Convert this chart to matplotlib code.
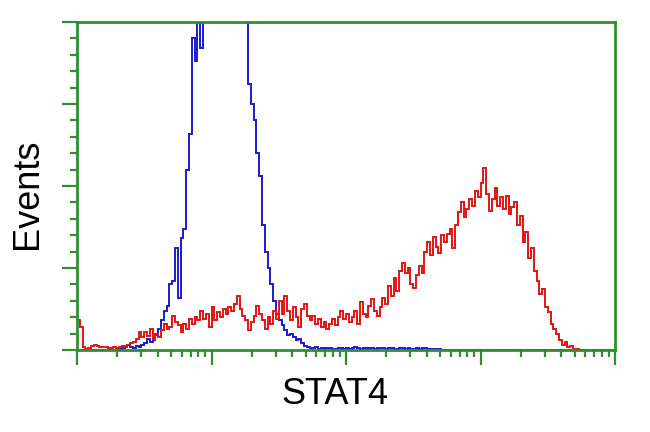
import numpy as np
import matplotlib
matplotlib.use('Agg')
import matplotlib.pyplot as plt
from matplotlib.ticker import LogLocator, MultipleLocator, NullFormatter

# histogram channels: 192 log-spaced bins over four decades
n_bins = 192
edges = np.logspace(0, 4, n_bins + 1)

# isotype control (blue), counts per channel
control = [0] * 12 + [
    0, 0, 0.2, 0.4, 0.6, 1.0, 1.5, 1.0, 0.7, 1.2, 1.0, 1.5,
    2.0, 3.5, 2.5, 3.0, 4.5, 6.5, 9.0, 12.0, 13.5, 20.0, 21.0, 31.0,
    16.0, 34.0, 37.0, 55.0, 66.0, 95.0, 88.0, 105.0, 92.0, 110.0, 120.0, 125.0,
    130, 140, 148, 155, 160, 158, 152, 145, 138, 128, 118, 108,
    100, 81, 75, 70, 60, 53, 38, 30, 25, 20, 15, 11,
    9.0, 7.5, 6.0, 4.5, 5.0, 4.0, 3.0, 3.5, 2.0, 1.2, 0.8, 0.6,
    0.5, 0.8, 0.4, 0.6, 0.3, 0.5, 0.7, 0.4, 0.3, 0.6, 0.5, 0.4,
    0.6, 0.4, 0.5, 0.8, 0.5, 0.3, 0.6, 0.4, 0.5, 0.7, 0.4, 0.5,
    0.5, 0.6, 0.4, 0.5, 0.7, 0.4, 0.3, 0.6, 0.5, 0.4, 0.5, 0.3,
    0.4, 0.5, 0.3, 0.5, 0.6, 0.4, 0.3, 0.4, 0.2, 0.3, 0.1, 0.0,
] + [0] * 60

# STAT4 stained sample (red), counts per channel
stat4 = [
    9.0, 7.0, 1.0, 0.3, 0.5, 1.2, 1.5, 1.2, 1.0, 0.8, 0.9, 0.7,
    0.6, 0.8, 0.5, 0.9, 1.2, 1.0, 1.5, 2.0, 2.5, 3.5, 5.5, 4.0,
    5.5, 4.2, 6.5, 3.5, 5.0, 4.0, 6.0, 8.0, 6.5, 7.0, 10.5, 8.5,
    7.5, 5.5, 8.0, 6.5, 9.5, 8.0, 10.0, 9.0, 12.0, 9.5, 11.0, 7.0,
    13.0, 9.0, 11.5, 10.0, 12.5, 11.0, 13.0, 12.0, 14.0, 16.5, 12.5, 10.5,
    9.0, 6.0, 8.5, 10.5, 13.5, 11.0, 9.0, 6.5, 10.0, 8.0, 12.0, 9.5,
    15.0, 11.0, 16.5, 12.0, 9.0, 13.0, 10.0, 7.0, 12.5, 14.0, 10.5, 9.0,
    10.5, 8.0, 9.5, 7.0, 8.5, 6.5, 8.0, 9.5, 7.5, 10.0, 12.0, 9.5,
    11.0, 8.5, 10.0, 12.0, 8.0, 14.5, 11.0, 10.0, 13.5, 15.5, 12.0, 10.5,
    13.0, 16.0, 14.0, 19.5, 16.5, 22.0, 18.0, 24.0, 26.5, 23.5, 25.0, 20.0,
    19.0, 23.0, 25.5, 23.5, 30.0, 33.0, 29.0, 34.5, 31.5, 29.5, 35.0, 33.0,
    35.5, 37.0, 31.0, 38.0, 42.0, 45.0, 40.5, 43.0, 46.0, 44.0, 48.5, 46.5,
    51.0, 55.5, 47.5, 42.5, 46.0, 49.5, 44.0, 46.5, 43.0, 47.0, 41.5, 43.5,
    45.0, 38.0, 41.0, 33.0, 36.0, 28.0, 31.0, 24.0, 21.0, 17.0, 18.5, 13.0,
    11.5, 8.0, 6.5, 5.0, 3.0, 1.5, 2.5, 0.8, 1.2, 0.4, 0.2, 0,
] + [0] * 12

green = '#2f8f2f'
plt.rcParams['font.family'] = ['Liberation Sans', 'DejaVu Sans']

fig = plt.figure(figsize=(6.5, 4.32), dpi=100)
ax = fig.add_axes([77 / 650, 1 - 350 / 432, 538 / 650, 328 / 432])

ax.stairs(control, edges, color='#1c1ccc', linewidth=1.4)
ax.stairs(stat4, edges, color='#e01515', linewidth=1.4)

ax.set_xscale('log')
ax.set_xlim(1, 1e4)
ax.set_ylim(0, 100)

for s in ax.spines.values():
    s.set_color(green)
    s.set_linewidth(2.0)

ax.xaxis.set_major_locator(LogLocator(base=10, numticks=10))
ax.xaxis.set_minor_locator(LogLocator(base=10, subs=np.arange(2, 10), numticks=20))
ax.xaxis.set_minor_formatter(NullFormatter())
ax.yaxis.set_major_locator(MultipleLocator(25))
ax.yaxis.set_minor_locator(MultipleLocator(5))
ax.tick_params(which='major', direction='out', length=11, width=1.6, color=green,
               labelbottom=False, labelleft=False)
ax.tick_params(which='minor', direction='out', length=5, width=1.6, color=green)

fig.text(335 / 650, 1 - 395 / 432, 'STAT4', fontsize=26, ha='center', va='center')
fig.text(28 / 650, 1 - 194 / 432, 'Events', fontsize=26, rotation=90,
         ha='center', va='center')

fig.savefig('out.png', dpi=100)
